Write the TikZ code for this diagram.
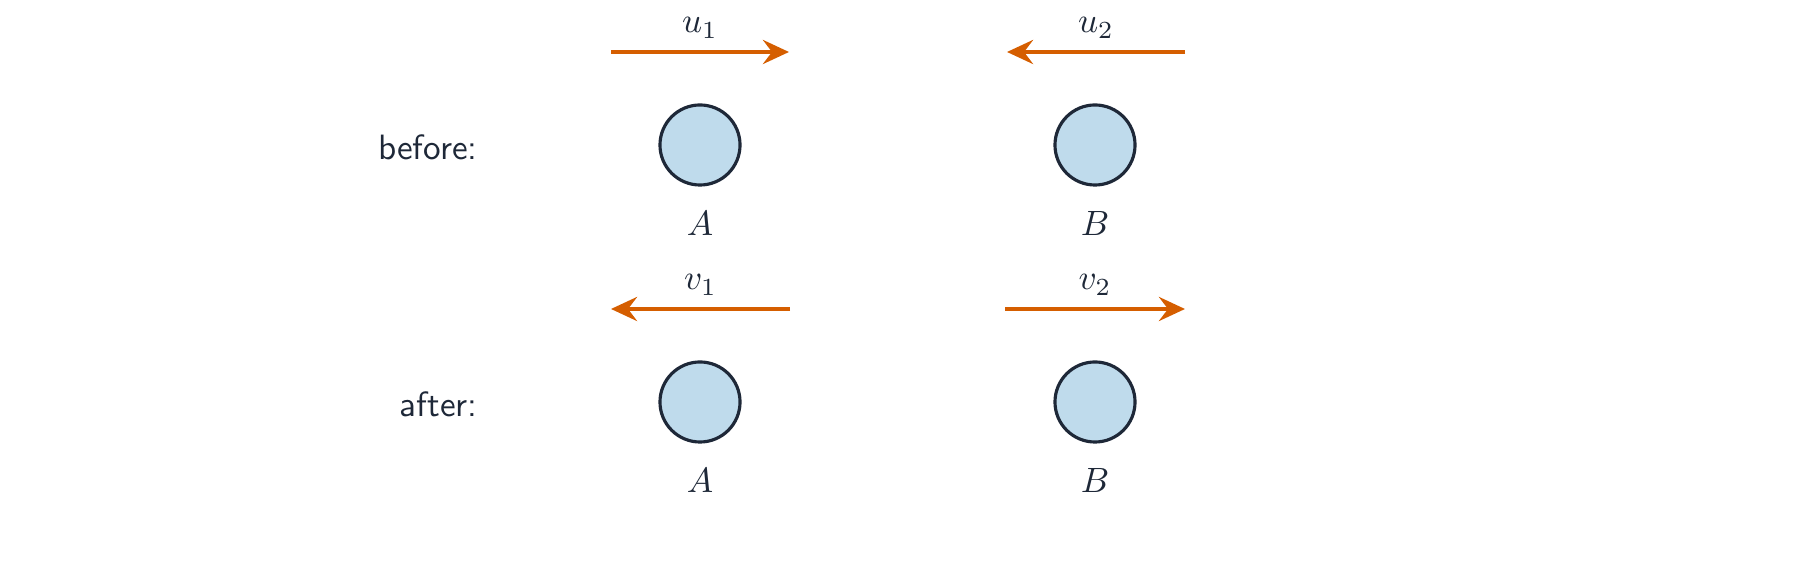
\documentclass[tikz,border=0pt]{standalone}
\usepackage{amsmath}
\usepackage{xcolor}
\usetikzlibrary{positioning, arrows.meta}
\definecolor{ink}{HTML}{1E2838}
\definecolor{vel}{HTML}{D55E00}
\definecolor{ball}{HTML}{BFDBEC}

\begin{document}
\begin{tikzpicture}[x=0.01cm,y=0.01cm,
  ballnode/.style={circle,draw=ink,line width=0.9pt,fill=ball,minimum size=0.8cm,inner sep=0pt},
  velarrow/.style={draw=vel,line width=1.2pt,-{Stealth[length=2.6mm,width=2.4mm,inset=0.9mm]}},
  every node/.style={text=ink,font=\sffamily}]

\useasboundingbox (0,-583) rectangle (1800,0);

% before
\node [ballnode](ballA1) at (700,-145) {};
\node [ballnode](ballB1) at (1095,-145) {};
\node [below=0.12cm of ballA1](labA1) {$A$};
\node [below=0.12cm of ballB1](labB1) {$B$};
\node [anchor=east](before) at (490,-147) {before:};
\coordinate (u1s) at (611,-52);
\coordinate (u1e) at (789,-52);
\coordinate (u2s) at (1185,-52);
\coordinate (u2e) at (1007,-52);
\draw [velarrow] (u1s) -- node[above]{$u_1$} (u1e);
\draw [velarrow] (u2s) -- node[above]{$u_2$} (u2e);

% after
\node [ballnode](ballA2) at (700,-402) {};
\node [ballnode](ballB2) at (1095,-402) {};
\node [below=0.12cm of ballA2](labA2) {$A$};
\node [below=0.12cm of ballB2](labB2) {$B$};
\node [anchor=east](after) at (490,-404) {after:};
\coordinate (v1s) at (790,-309);
\coordinate (v1e) at (611,-309);
\coordinate (v2s) at (1005,-309);
\coordinate (v2e) at (1185,-309);
\draw [velarrow] (v1s) -- node[above]{$v_1$} (v1e);
\draw [velarrow] (v2s) -- node[above]{$v_2$} (v2e);
\end{tikzpicture}
\end{document}
